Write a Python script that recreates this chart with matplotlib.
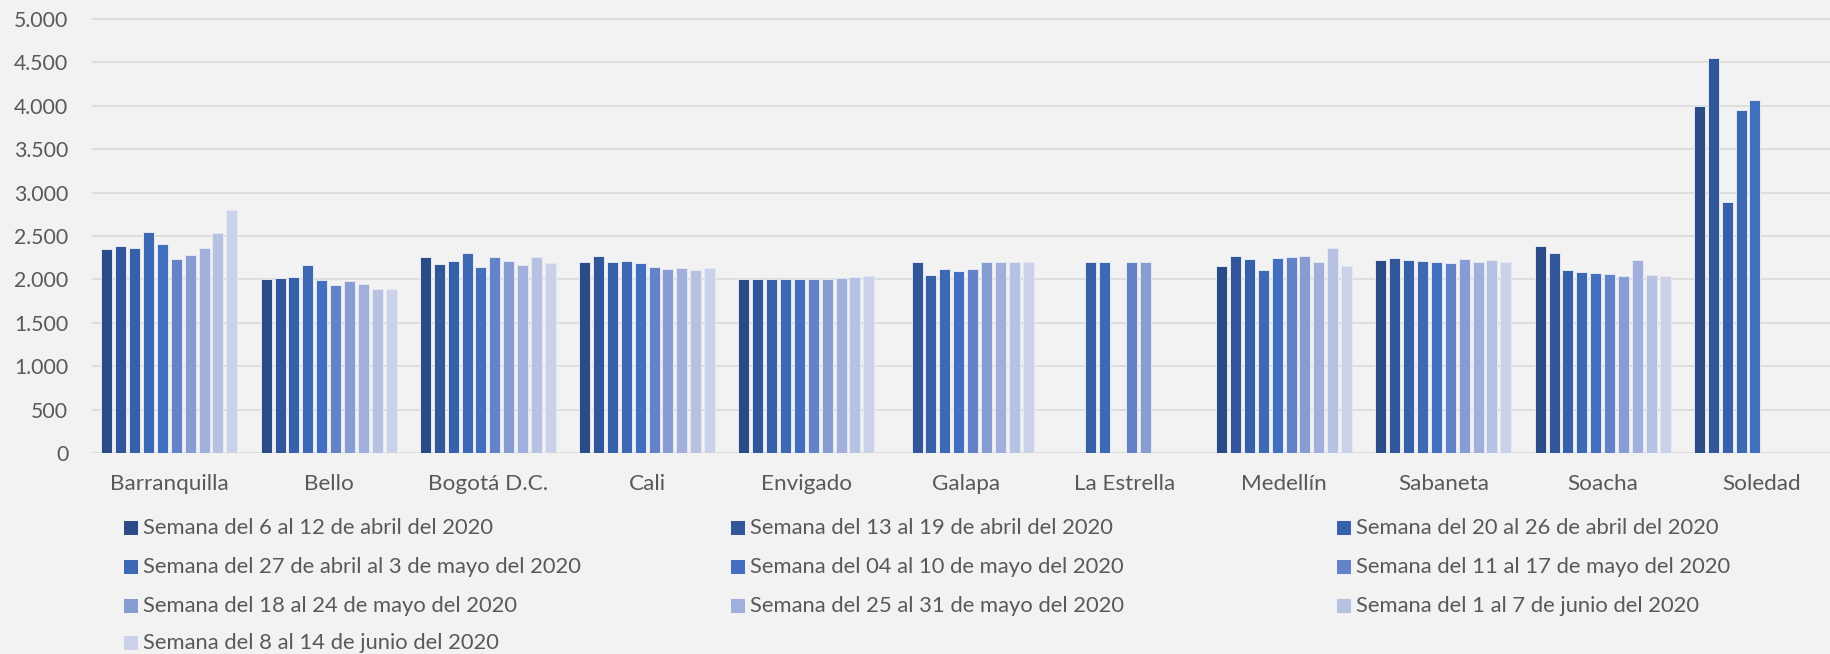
import numpy as np
import matplotlib
matplotlib.use("Agg")
import matplotlib.pyplot as plt
from matplotlib.patches import Rectangle
from matplotlib.ticker import FuncFormatter, MultipleLocator

nan = np.nan

categories = ["Barranquilla", "Bello", "Bogotá D.C.", "Cali", "Envigado", "Galapa",
              "La Estrella", "Medellín", "Sabaneta", "Soacha", "Soledad"]

series_labels = [
    "Semana del 6 al 12 de abril del 2020",
    "Semana del 13 al 19 de abril del 2020",
    "Semana del 20 al 26 de abril del 2020",
    "Semana del 27 de abril al 3 de mayo del 2020",
    "Semana del 04 al 10 de mayo del 2020",
    "Semana del 11 al 17 de mayo del 2020",
    "Semana del 18 al 24 de mayo del 2020",
    "Semana del 25 al 31 de mayo del 2020",
    "Semana del 1 al 7 de junio del 2020",
    "Semana del 8 al 14 de junio del 2020",
]

s1 = [2354, 2001, 2262, 2197, 2000, nan, nan, 2154, 2220, 2381, 3994]
s2 = [2389, 2016, 2174, 2273, 2001, 2200, nan, 2266, 2247, 2300, 4555]
s3 = [2366, 2028, 2212, 2200, 2000, 2047, 2200, 2239, 2223, 2104, 2896]
s4 = [2542, 2162, 2304, 2208, 2000, 2124, 2200, 2112, 2208, 2081, 3948]
s5 = [2404, 1993, 2143, 2185, 2001, 2097, nan, 2250, 2204, 2070, 4063]
s6 = [2231, 1935, 2258, 2143, 2000, 2116, 2200, 2254, 2185, 2058, nan]
s7 = [2277, 1978, 2208, 2116, 2000, 2200, 2200, 2266, 2239, 2035, nan]
s8 = [2362, 1951, 2166, 2135, 2020, 2200, nan, 2204, 2200, 2220, nan]
s9 = [2538, 1893, 2258, 2108, 2031, 2200, nan, 2366, 2220, 2047, nan]
s10 = [2796, 1886, 2185, 2135, 2043, 2200, nan, 2150, 2200, 2043, nan]
series = [s1, s2, s3, s4, s5, s6, s7, s8, s9, s10]

colors = ["#2B4B87", "#31569A", "#3660A9", "#3C68B4", "#426FBF",
          "#6382C8", "#869CD3", "#A0AFDB", "#B7C2E2", "#CAD1E8"]

plt.rcParams['font.family'] = ['Lato', 'DejaVu Sans']
TXT = "#595959"
BG = "#F2F2F2"

W, H = 1831, 654
fig = plt.figure(figsize=(W / 100, H / 100), dpi=100, facecolor=BG)

px_per_unit = 434 / 5000
ytop_px = 19 - 50 * px_per_unit
ax = fig.add_axes([92 / W, (H - 453) / H, (W - 92) / W, (453 - ytop_px) / H])
ax.set_facecolor(BG)

x = np.arange(len(categories))
step = 0.0871
bw = 0.069
for k, (vals, col, lab) in enumerate(zip(series, colors, series_labels)):
    ax.bar(x + (k - 4.5) * step, vals, width=bw, color=col, label=lab,
           edgecolor="#E4E8F2", linewidth=0.7, zorder=3)

ax.set_xlim(-0.486, 10.434)
ax.set_ylim(0, 5050)
ax.yaxis.set_major_locator(MultipleLocator(500))
ax.yaxis.set_major_formatter(FuncFormatter(lambda v, p: f"{int(v):,}".replace(",", ".")))
ax.grid(axis='y', color="#D9D9D9", linewidth=1.2, zorder=0)
ax.set_axisbelow(True)
for s in ax.spines.values():
    s.set_visible(False)
ax.set_xticks(x)
ax.set_xticklabels(categories)
ax.tick_params(axis='both', length=0, labelcolor=TXT)
ax.tick_params(axis='y', pad=17, labelsize=15.3)
ax.tick_params(axis='x', pad=15, labelsize=16.2)

# Legend (3 columns, row-major order)
col_x = [124, 731, 1337]
row_y = [528, 567, 606, 643]
sq = 14
for i, (lab, col) in enumerate(zip(series_labels, colors)):
    r, c = divmod(i, 3)
    x0 = col_x[c]
    yc = row_y[r]
    fig.add_artist(Rectangle((x0 / W, (H - yc - sq / 2) / H), sq / W, sq / H,
                             transform=fig.transFigure, facecolor=col,
                             edgecolor="none"))
    fig.text((x0 + sq + 5) / W, (H - yc) / H, lab, fontsize=15.8, color=TXT,
             va='center', ha='left')

fig.savefig("out.png", dpi=100, facecolor=BG)
